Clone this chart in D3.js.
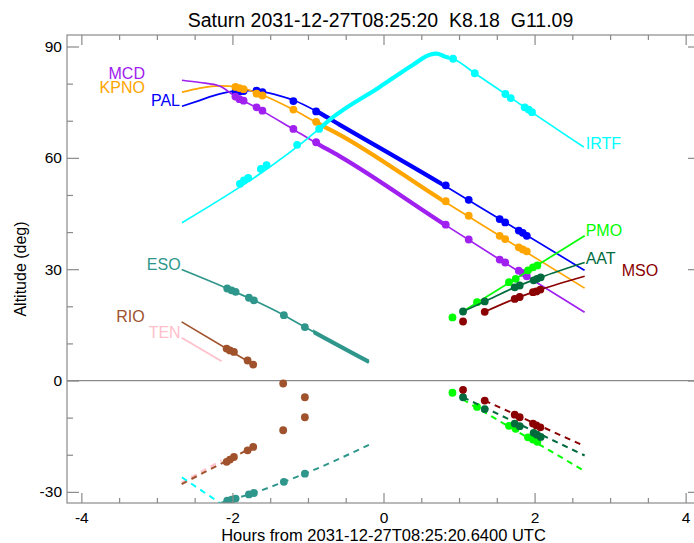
<!DOCTYPE html>
<html>
<head>
<meta charset="utf-8">
<script src="https://cdn.jsdelivr.net/npm/d3@7"></script>
<style>
  body { margin: 0; background: #fff; }
  svg { font-family: "Liberation Sans", Arial, sans-serif; }
</style>
</head>
<body>
<div id="chart-container"></div>
<script>
const titleText = "Saturn 2031-12-27T08:25:20  K8.18  G11.09";
const xLabel = "Hours from 2031-12-27T08:25:20.6400 UTC";
const yLabel = "Altitude (deg)";

const xDomain = [-4.19, 4.19];
const yDomain = [-33.0, 93.1];
const xMajorTicks = [-4, -2, 0, 2, 4];
const xMinorTicks = [-3.5, -3, -2.5, -1.5, -1, -0.5, 0.5, 1, 1.5, 2.5, 3, 3.5];
const yMajorTicks = [-30, 0, 30, 60, 90];
const yMinorTicks = [-20, -10, 10, 20, 40, 50, 70, 80];

// target altitude curves [hours, deg]
const palCurve = [[-2.668, 73.9], [-2.430, 75.5], [-2.258, 76.7], [-1.994, 77.9], [-1.80, 78.1], [-1.637, 77.9], [-1.372, 76.7], [-1.173, 75.4], [-0.882, 72.5], [-0.578, 68.9], [0.784, 52.8], [1.538, 43.5], [2.662, 29.7]];
const kpnoCurve = [[-2.668, 77.7], [-2.430, 78.8], [-2.165, 79.4], [-1.944, 79.2], [-1.680, 77.5], [-1.614, 77.0], [-1.196, 73.0], [-0.886, 69.5], [-0.578, 66.2], [0.784, 48.5], [1.538, 39.0], [2.662, 24.9]];
const mcdCurve = [[-2.668, 80.9], [-2.430, 80.3], [-2.165, 79.3], [-1.966, 76.6], [-1.689, 73.6], [-1.204, 67.8], [-0.909, 64.2], [-0.578, 60.4], [0.811, 42.0], [1.538, 32.6], [2.662, 18.4]];
const irtfCurve = [[-2.668, 42.5], [-0.852, 67.8], [-0.710, 70.3], [-0.049, 79.1], [0.392, 85.1], [0.612, 87.8], [0.701, 88.1], [0.811, 87.3], [0.921, 86.7], [1.208, 82.8], [1.614, 77.2], [1.870, 73.6], [2.651, 62.9]];
const esoCurve = [[-2.672, 29.9], [-2.069, 24.8], [-1.716, 21.6], [-1.319, 17.6], [-1.041, 14.4], [-0.190, 5.0]];
const rioCurve = [[-2.672, 15.8], [-1.725, 4.3]];
const tenCurve = [[-2.672, 11.5], [-2.143, 5.2]];
const pmoCurve = [[1.049, 18.6], [2.663, 39.0]];
const aatCurve = [[1.053, 18.6], [1.340, 21.3], [1.737, 25.1], [2.081, 27.8], [2.663, 31.8]];
const msoCurve = [[1.340, 18.5], [1.737, 22.0], [2.077, 24.5], [2.663, 28.1]];

// hours of darkness (drawn thick)
const palNight = [-0.88, 0.78];
const kpnoNight = [-0.88, 0.78];
const mcdNight = [-0.91, 0.81];
const irtfNight = [-0.85, 0.87];
const esoNight = [-0.93, -0.19];

// observation times and target altitudes at them
const usDotHours = [-1.960, -1.907, -1.852, -1.680, -1.603, -1.193, -0.892, 0.824, 1.128, 1.538, 1.611, 1.791, 1.844, 1.897];
const palDots = [77.9, 77.9, 78.0, 78.1, 77.7, 75.3, 72.5, 52.6, 48.7, 43.5, 42.6, 40.4, 39.8, 39.0];
const kpnoDots = [79.1, 78.8, 78.5, 77.3, 76.8, 73.0, 69.7, 48.3, 44.4, 39.0, 38.1, 35.9, 35.3, 34.8];
const mcdDots = [76.5, 75.8, 75.4, 73.6, 72.7, 67.8, 64.2, 42.0, 38.0, 32.6, 31.8, 29.6, 29.0, 28.1];
const irtfDotHours = [-1.901, -1.848, -1.791, -1.623, -1.548, -1.143, -0.852, 0.921, 1.208, 1.614, 1.684, 1.869, 1.922, 1.966];
const irtfDots = [53.0, 53.9, 54.6, 57.0, 58.0, 63.5, 67.8, 86.7, 82.8, 77.2, 76.1, 73.6, 73.0, 72.3];
const esoDotHours = [-2.069, -2.011, -1.958, -1.782, -1.716, -1.319, -1.041];
const esoDots = [24.8, 24.3, 23.9, 22.3, 21.6, 17.6, 14.4];
const rioDotHours = [-2.077, -2.033, -1.980, -1.799, -1.725, -1.328, -1.041];
const rioDots = [8.6, 8.1, 7.7, 5.4, 4.3, -0.8, -4.5];
const pmoDotHours = [0.913, 1.238, 1.661, 1.750, 1.913, 1.979, 2.037];
const pmoDots = [17.0, 21.1, 26.5, 27.4, 29.7, 30.5, 31.0];
const aatDotHours = [1.053, 1.340, 1.737, 1.803, 1.988, 2.032, 2.081];
const aatDots = [18.6, 21.3, 25.1, 25.6, 27.0, 27.4, 27.8];
const msoDotHours = [1.053, 1.340, 1.737, 1.803, 1.979, 2.024, 2.077];
const msoDots = [15.9, 18.5, 22.0, 22.5, 23.8, 24.0, 24.5];

// sun altitude (dashed) and sun altitude at the observation times
const irtfSun = [[-2.668, -26.1], [-2.165, -33.0], [-2.05, -34.6]];
const esoSun = [[-2.30, -34.0], [-2.069, -32.4], [-1.716, -30.3], [-1.319, -27.3], [-1.041, -25.1], [-0.190, -17.3]];
const esoSunDots = [-32.4, -32.1, -31.8, -30.7, -30.3, -27.3, -25.1];
const rioSun = [[-2.672, -27.9], [-1.725, -17.9]];
const rioSunDots = [-21.9, -21.3, -20.6, -18.8, -17.9, -13.4, -9.9];
const tenSun = [[-2.672, -27.5], [-2.143, -21.5]];
const pmoSun = [[1.049, -5.1], [2.663, -24.4]];
const pmoSunDots = [-3.3, -7.1, -12.2, -13.0, -15.3, -15.9, -16.5];
const aatSun = [[1.053, -4.5], [2.663, -20.2]];
const aatSunDots = [-4.5, -7.7, -11.6, -12.3, -14.1, -14.6, -15.2];
const msoSun = [[1.340, -5.4], [2.663, -17.7]];
const msoSunDots = [-2.5, -5.4, -9.2, -9.9, -11.6, -12.1, -12.6];

const sites = [
  { name: "TEN", color: "#ffc0cb", curve: tenCurve, sun: tenSun },
  { name: "RIO", color: "#a0522d", curve: rioCurve, dotHours: rioDotHours, dots: rioDots, sun: rioSun, sunDots: rioSunDots },
  { name: "ESO", color: "#2f968b", curve: esoCurve, night: esoNight, dotHours: esoDotHours, dots: esoDots, sun: esoSun, sunDots: esoSunDots },
  { name: "PAL", color: "#0000ff", curve: palCurve, night: palNight, dotHours: usDotHours, dots: palDots },
  { name: "KPNO", color: "#ffa500", curve: kpnoCurve, night: kpnoNight, dotHours: usDotHours, dots: kpnoDots },
  { name: "MCD", color: "#a020f0", curve: mcdCurve, night: mcdNight, dotHours: usDotHours, dots: mcdDots },
  { name: "IRTF", color: "#00ffff", curve: irtfCurve, night: irtfNight, dotHours: irtfDotHours, dots: irtfDots, sun: irtfSun },
  { name: "PMO", color: "#00ff00", curve: pmoCurve, dotHours: pmoDotHours, dots: pmoDots, sun: pmoSun, sunDots: pmoSunDots },
  { name: "AAT", color: "#006b3c", curve: aatCurve, dotHours: aatDotHours, dots: aatDots, sun: aatSun, sunDots: aatSunDots },
  { name: "MSO", color: "#8b0000", curve: msoCurve, dotHours: msoDotHours, dots: msoDots, sun: msoSun, sunDots: msoSunDots }
];

// where each name sits relative to its curve (pixels)
const labelStyle = {
  PAL:  { at: "first", anchor: "end", dx: -2, dy: 0 },
  KPNO: { at: "first", anchor: "end", dx: -37, dy: 1 },
  MCD:  { at: "first", anchor: "end", dx: -37, dy: -1 },
  ESO:  { at: "first", anchor: "end", dx: -1, dy: 0 },
  RIO:  { at: "first", anchor: "end", dx: -37, dy: 0 },
  TEN:  { at: "first", anchor: "end", dx: -1, dy: 0 },
  IRTF: { at: "last", anchor: "start", dx: 2, dy: 2 },
  PMO:  { at: "last", anchor: "start", dx: 1, dy: 0 },
  AAT:  { at: "last", anchor: "start", dx: 1, dy: 1 },
  MSO:  { at: "last", anchor: "start", dx: 37, dy: 0 }
};

const W = 694, H = 543;
const plot = { left: 67, right: 700, top: 35, bottom: 503 };
const axisGray = '#8a8a8a';

const svg = d3.select('#chart-container')
  .append('svg')
  .attr('width', W)
  .attr('height', H);

const x = d3.scaleLinear().domain(xDomain).range([plot.left, plot.right]);
const y = d3.scaleLinear().domain(yDomain).range([plot.bottom, plot.top]);

const defs = svg.append('defs');
defs.append('clipPath').attr('id', 'plot-clip')
  .append('rect')
  .attr('x', plot.left).attr('y', plot.top)
  .attr('width', plot.right - plot.left).attr('height', plot.bottom - plot.top);

// zero altitude line
svg.append('line')
  .attr('x1', plot.left).attr('x2', plot.right)
  .attr('y1', y(0)).attr('y2', y(0))
  .attr('stroke', axisGray).attr('stroke-width', 1.2);

const line = d3.line()
  .x(d => x(d[0]))
  .y(d => y(d[1]))
  .curve(d3.curveMonotoneX);

const marks = svg.append('g').attr('clip-path', 'url(#plot-clip)');

sites.forEach((s, i) => {
  const g = marks.append('g');

  if (s.sun) {
    g.append('path')
      .attr('d', line(s.sun))
      .attr('fill', 'none')
      .attr('stroke', s.color)
      .attr('stroke-width', 2)
      .attr('stroke-dasharray', '6,5');
  }

  g.append('path')
    .attr('d', line(s.curve))
    .attr('fill', 'none')
    .attr('stroke', s.color)
    .attr('stroke-width', 1.7);

  if (s.night) {
    defs.append('clipPath').attr('id', 'night-' + i)
      .append('rect')
      .attr('x', x(s.night[0])).attr('y', plot.top)
      .attr('width', x(s.night[1]) - x(s.night[0]))
      .attr('height', plot.bottom - plot.top);
    g.append('path')
      .attr('d', line(s.curve))
      .attr('clip-path', 'url(#night-' + i + ')')
      .attr('fill', 'none')
      .attr('stroke', s.color)
      .attr('stroke-width', 4.2);
  }

  if (s.dots) {
    g.selectAll('circle.target')
      .data(s.dots.map((a, k) => [s.dotHours[k], a]))
      .enter()
      .append('circle')
      .attr('class', 'target')
      .attr('cx', d => x(d[0]))
      .attr('cy', d => y(d[1]))
      .attr('r', 3.9)
      .attr('fill', s.color);
  }

  if (s.sunDots) {
    g.selectAll('circle.sun')
      .data(s.sunDots.map((a, k) => [s.dotHours[k], a]))
      .enter()
      .append('circle')
      .attr('class', 'sun')
      .attr('cx', d => x(d[0]))
      .attr('cy', d => y(d[1]))
      .attr('r', 3.9)
      .attr('fill', s.color);
  }
});

// site names
sites.forEach(s => {
  const st = labelStyle[s.name];
  const p = st.at === 'first' ? s.curve[0] : s.curve[s.curve.length - 1];
  svg.append('text')
    .attr('x', x(p[0]) + st.dx)
    .attr('y', y(p[1]) + st.dy)
    .attr('text-anchor', st.anchor)
    .attr('font-size', 16)
    .attr('fill', s.color)
    .text(s.name);
});

// axes
const plain = d => String(d);
const styleAxis = g => {
  g.select('.domain').remove();
  g.selectAll('.tick line').attr('stroke', axisGray).attr('stroke-width', 1.2);
  g.selectAll('.tick text').attr('fill', '#000');
  g.attr('font-size', 15.5).attr('font-family', '"Liberation Sans", Arial, sans-serif');
};

svg.append('g')
  .attr('transform', `translate(0, ${plot.bottom})`)
  .call(d3.axisBottom(x).tickValues(xMajorTicks).tickSizeInner(-10).tickSizeOuter(0).tickPadding(9).tickFormat(plain))
  .call(styleAxis);
svg.append('g')
  .attr('transform', `translate(0, ${plot.bottom})`)
  .call(d3.axisBottom(x).tickValues(xMinorTicks).tickSizeInner(-5).tickSizeOuter(0).tickFormat(''))
  .call(styleAxis);
svg.append('g')
  .attr('transform', `translate(0, ${plot.top})`)
  .call(d3.axisTop(x).tickValues(xMajorTicks).tickSizeInner(-10).tickSizeOuter(0).tickFormat(''))
  .call(styleAxis);
svg.append('g')
  .attr('transform', `translate(0, ${plot.top})`)
  .call(d3.axisTop(x).tickValues(xMinorTicks).tickSizeInner(-5).tickSizeOuter(0).tickFormat(''))
  .call(styleAxis);

svg.append('g')
  .attr('transform', `translate(${plot.left}, 0)`)
  .call(d3.axisLeft(y).tickValues(yMajorTicks).tickSizeInner(-12).tickSizeOuter(0).tickPadding(5).tickFormat(plain))
  .call(styleAxis);
svg.append('g')
  .attr('transform', `translate(${plot.left}, 0)`)
  .call(d3.axisLeft(y).tickValues(yMinorTicks).tickSizeInner(-6).tickSizeOuter(0).tickFormat(''))
  .call(styleAxis);
svg.append('g')
  .attr('transform', `translate(${plot.right}, 0)`)
  .call(d3.axisRight(y).tickValues(yMajorTicks).tickSizeInner(-12).tickSizeOuter(0).tickFormat(''))
  .call(styleAxis);
svg.append('g')
  .attr('transform', `translate(${plot.right}, 0)`)
  .call(d3.axisRight(y).tickValues(yMinorTicks).tickSizeInner(-6).tickSizeOuter(0).tickFormat(''))
  .call(styleAxis);

// frame
svg.append('rect')
  .attr('x', plot.left).attr('y', plot.top)
  .attr('width', plot.right - plot.left).attr('height', plot.bottom - plot.top)
  .attr('fill', 'none')
  .attr('stroke', axisGray)
  .attr('stroke-width', 1.2);

// titles
svg.append('text')
  .attr('x', (plot.left + plot.right) / 2 - 3)
  .attr('y', 27)
  .attr('text-anchor', 'middle')
  .attr('font-size', 19.5)
  .style('white-space', 'pre')
  .text(titleText);

svg.append('text')
  .attr('x', (plot.left + plot.right) / 2)
  .attr('y', 541)
  .attr('text-anchor', 'middle')
  .attr('font-size', 16.5)
  .text(xLabel);

svg.append('text')
  .attr('transform', `translate(26, ${(plot.top + plot.bottom) / 2}) rotate(-90)`)
  .attr('text-anchor', 'middle')
  .attr('font-size', 16)
  .text(yLabel);
</script>
</body>
</html>
